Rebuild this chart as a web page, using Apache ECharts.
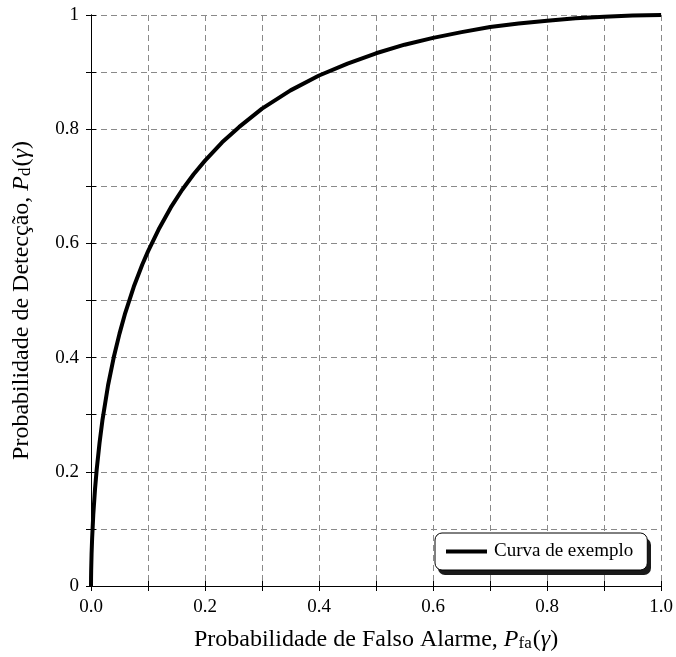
<!DOCTYPE html>
<html>
<head>
<meta charset="utf-8">
<script src="https://cdn.jsdelivr.net/npm/echarts@6/dist/echarts.min.js"></script>
<style>html,body{margin:0;padding:0;background:#fff}#c{width:676px;height:657px}</style>
</head>
<body>
<div id="c"></div>
<script>
const seriesName = 'Curva de exemplo';
const pfa = [0, 0.00002, 0.0001, 0.0003, 0.001, 0.002, 0.004, 0.007, 0.01, 0.015, 0.02, 0.03, 0.04, 0.05, 0.06, 0.075, 0.09, 0.1, 0.12, 0.14, 0.16, 0.18, 0.2, 0.23, 0.26, 0.3, 0.35, 0.4, 0.45, 0.5, 0.55, 0.6, 0.65, 0.7, 0.75, 0.8, 0.85, 0.9, 0.95, 1.0];
const pd  = [0, 0.0046, 0.013, 0.027, 0.056, 0.084, 0.125, 0.169, 0.204, 0.251, 0.290, 0.352, 0.401, 0.442, 0.478, 0.524, 0.563, 0.586, 0.627, 0.663, 0.694, 0.721, 0.745, 0.777, 0.804, 0.836, 0.868, 0.894, 0.915, 0.933, 0.948, 0.960, 0.970, 0.979, 0.985, 0.990, 0.9944, 0.997, 0.9992, 1.0];
const xTickLabels = ['0.0', '', '0.2', '', '0.4', '', '0.6', '', '0.8', '', '1.0'];
const yTickLabels = ['0', '', '0.2', '', '0.4', '', '0.6', '', '0.8', '', '1'];

const FONT = '"Liberation Serif", "DejaVu Serif", serif';
const rich = {
  n: {fontFamily: FONT, fontSize: 24, color: '#000', lineHeight: 30, verticalAlign: 'bottom'},
  i: {fontFamily: FONT, fontSize: 24, fontStyle: 'italic', color: '#000', lineHeight: 30, verticalAlign: 'bottom'},
  s: {fontFamily: FONT, fontSize: 17, color: '#000', lineHeight: 30, verticalAlign: 'bottom', padding: [0, 1, 0, 0]}
};
const gridStyle = {show: true, lineStyle: {color: '#8a8a8a', type: [6, 4], width: 1}};
const tickIdx = v => Math.round(v * 10);

// legend box geometry (decoration only)
const LEG = {left: 435, top: 533, w: 213, h: 37};

const chart = echarts.init(document.getElementById('c'), null, {renderer: 'canvas'});
chart.setOption({
  animation: false,
  backgroundColor: '#fff',
  grid: {left: 91, right: 13, top: 15, bottom: 69},
  graphic: [{
    type: 'rect', z: 3, silent: true,
    shape: {x: LEG.left + 3, y: LEG.top + 5, width: LEG.w, height: LEG.h, r: 7},
    style: {fill: '#1a1a1a'}
  }],
  legend: {
    left: LEG.left, top: LEG.top, width: LEG.w,
    data: [seriesName], z: 5,
    icon: 'rect', itemWidth: 41, itemHeight: 4, itemGap: 8,
    padding: [9, 14, 9, 11],
    backgroundColor: '#fff', borderColor: '#000', borderWidth: 1, borderRadius: 7,
    textStyle: {fontFamily: FONT, fontSize: 19, color: '#000', padding: [0, 0, 0, 2]}
  },
  xAxis: [{
    type: 'value', min: 0, max: 1, interval: 0.1,
    name: '{n|Probabilidade de Falso Alarme, }{i|P}{s|fa}{n|(}{i|γ}{n|)}',
    nameLocation: 'middle', nameGap: 36,
    nameTextStyle: {rich: rich},
    axisLine: {show: true, lineStyle: {color: '#000', width: 1}},
    axisTick: {show: true, inside: true, length: 5, lineStyle: {color: '#000'}},
    axisLabel: {fontFamily: FONT, fontSize: 19, color: '#000', margin: 12,
      formatter: v => xTickLabels[tickIdx(v)] || ''},
    splitLine: gridStyle
  }, {
    type: 'value', position: 'top', min: 0, max: 1, interval: 0.1,
    axisLine: {show: true, lineStyle: {color: '#000', width: 1}},
    axisTick: {show: true, inside: true, length: 5, lineStyle: {color: '#000'}},
    axisLabel: {show: false}, splitLine: {show: false}
  }],
  yAxis: [{
    type: 'value', min: 0, max: 1, interval: 0.1,
    name: '{n|Probabilidade de Detecção, }{i|P}{s|d}{n|(}{i|γ}{n|)}',
    nameLocation: 'middle', nameGap: 57,
    nameTextStyle: {rich: rich},
    axisLine: {show: true, lineStyle: {color: '#000', width: 1}},
    axisTick: {show: true, inside: true, length: 5, lineStyle: {color: '#000'}},
    axisLabel: {fontFamily: FONT, fontSize: 19, color: '#000', margin: 12,
      formatter: v => yTickLabels[tickIdx(v)] || ''},
    splitLine: gridStyle
  }, {
    type: 'value', position: 'right', min: 0, max: 1, interval: 0.1,
    axisLine: {show: true, lineStyle: {color: '#000', width: 1}},
    axisTick: {show: true, inside: true, length: 5, lineStyle: {color: '#000'}},
    axisLabel: {show: false}, splitLine: {show: false}
  }],
  series: [{
    name: seriesName, type: 'line',
    data: pfa.map((x, k) => [x, pd[k]]),
    smooth: false,
    showSymbol: false, symbol: 'none',
    lineStyle: {color: '#000', width: 4, join: 'round', cap: 'butt'},
    itemStyle: {color: '#000'},
    clip: true
  }]
});
</script>
</body>
</html>
